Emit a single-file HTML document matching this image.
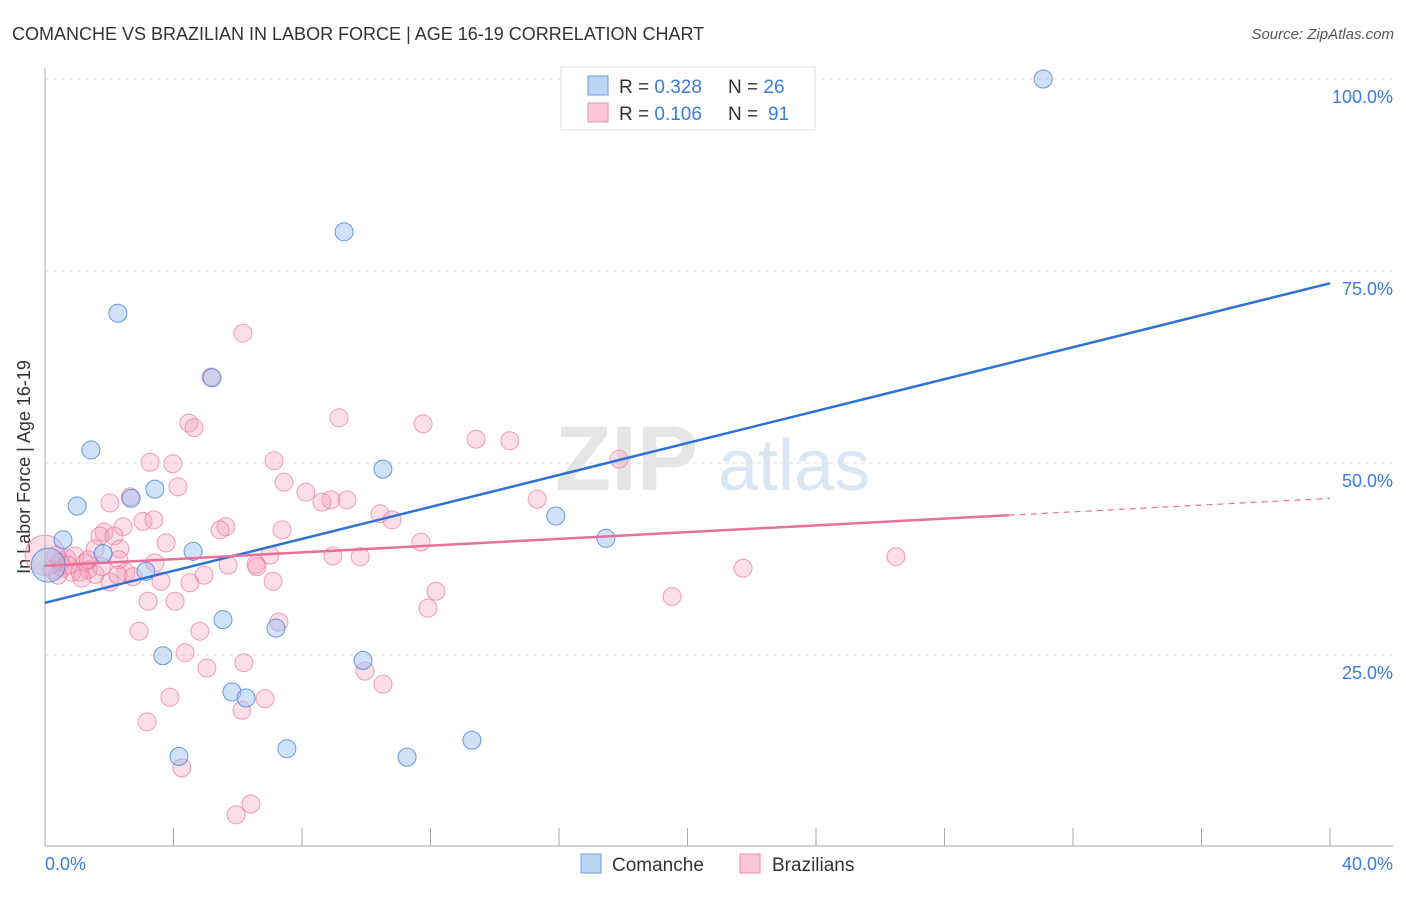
<!DOCTYPE html>
<html><head><meta charset="utf-8"><style>
body{margin:0;background:#fff;font-family:"Liberation Sans",sans-serif}
svg text{font-family:"Liberation Sans",sans-serif}
</style></head><body>
<svg width="1406" height="892" xmlns="http://www.w3.org/2000/svg">
<text x="12" y="40" font-size="18" fill="#333">COMANCHE VS BRAZILIAN IN LABOR FORCE | AGE 16-19 CORRELATION CHART</text>
<text x="1394" y="39" font-size="15" fill="#555" font-style="italic" text-anchor="end">Source: ZipAtlas.com</text>
<g><text x="555" y="490" font-size="92" fill="#e6e6e6" font-family="Liberation Serif" font-weight="bold">ZIP</text><text x="718" y="490" font-size="72" fill="#dbe6f4">atlas</text></g>
<g id="grid"></g>
<line x1="45" y1="68" x2="45" y2="846" stroke="#aaa"/>
<line x1="45" y1="846" x2="1393" y2="846" stroke="#aaa"/>
<g id="ticks"></g>
<text x="20" y="457" font-size="18" fill="#333" transform="rotate(-90 30 457)" text-anchor="middle">In Labor Force | Age 16-19</text>
<text x="45" y="870" font-size="18" fill="#3b7dd8">0.0%</text>
<text x="1393" y="870" font-size="18" fill="#3b7dd8" text-anchor="end">40.0%</text>
<g id="pts"></g>
<g id="lines"></g>
<g>
<rect x="561" y="67" width="254" height="63" fill="#fff" stroke="#ddd"/>
<rect x="588" y="76" width="20" height="19" fill="#bcd5f5" stroke="#6b9de0"/>
<rect x="588" y="103" width="20" height="19" fill="#f9c7d6" stroke="#ea8fae"/>
<text x="619" y="93" font-size="19" fill="#333">R = <tspan fill="#3b7dd8">0.328</tspan><tspan x="728">N = </tspan><tspan fill="#3b7dd8">26</tspan></text>
<text x="619" y="120" font-size="19" fill="#333">R = <tspan fill="#3b7dd8">0.106</tspan><tspan x="728">N = </tspan><tspan x="768" fill="#3b7dd8">91</tspan></text>
</g>
<g>
<rect x="581" y="854" width="20" height="19" fill="#bcd5f5" stroke="#6b9de0"/>
<text x="612" y="871" font-size="19" fill="#333">Comanche</text>
<rect x="740" y="854" width="20" height="19" fill="#f9c7d6" stroke="#ea8fae"/>
<text x="772" y="871" font-size="19" fill="#333">Brazilians</text>
</g>
</svg>
<script>
const yTicks=[25,50,75,100];
const yTickLabels=["25.0%","50.0%","75.0%","100.0%"];
const blueX=[31.07,9.31,2.27,5.2,1.43,10.52,1.0,3.42,2.68,15.9,0.56,17.46,4.61,1.81,3.14,5.54,7.19,3.67,9.9,5.82,6.26,4.17,7.53,11.27,13.29,0.1];
const blueY=[100,80.1,69.5,61.1,51.7,49.2,44.4,46.6,45.4,43.1,40.0,40.2,38.5,38.2,35.9,29.6,28.5,24.9,24.3,20.2,19.4,11.8,12.8,11.7,13.9,36.7];
const pinkX=[6.16,5.17,9.15,11.77,4.48,4.64,13.42,14.47,3.27,3.98,7.13,17.87,4.14,7.44,8.12,2.65,2.02,8.9,8.62,9.4,15.32,10.43,10.8,5.63,5.45,7.38,3.05,3.39,1.84,2.43,1.71,2.15,3.77,11.7,1.56,2.33,7.0,8.96,9.81,0.34,0.68,0.93,1.25,1.34,2.3,3.42,5.7,6.57,6.6,26.49,21.73,0.56,0.84,1.09,1.56,1.15,2.52,2.74,4.95,3.61,4.51,7.1,12.17,19.52,3.21,4.05,11.92,7.28,2.93,4.82,4.36,6.19,5.04,9.96,10.52,3.89,6.13,6.85,3.18,4.26,6.41,5.95,2.02,2.27,1.77,1.34,0.47,0.22,0.72,0.4,0.0];
const pinkY=[66.9,61.2,55.9,55.1,55.2,54.6,53.1,52.9,50.1,49.9,50.3,50.5,46.9,47.5,46.2,45.6,44.8,45.2,44.9,45.2,45.3,43.4,42.6,41.7,41.3,41.3,42.4,42.6,41.0,41.7,40.5,40.5,39.6,39.7,38.8,38.8,38.0,37.9,37.8,38.0,37.6,37.9,37.0,36.1,37.4,37.0,36.7,36.8,36.5,37.8,36.3,36.3,35.8,35.8,35.5,35.0,35.8,35.2,35.4,34.6,34.4,34.6,33.3,32.6,32.0,32.0,31.1,29.3,28.1,28.1,25.3,24.0,23.3,22.9,21.2,19.5,17.8,19.3,16.3,10.3,5.6,4.2,34.5,35.4,36.5,37.4,37.1,36.1,36.7,35.4,38.0];
const blueTrend=[31.8,1.04];
const pinkTrend=[36.6,0.22];
const xs=v=>45+v*32.125, ys=v=>847-v*7.68;
const NS="http://www.w3.org/2000/svg";
function mk(t,a,p){const e=document.createElementNS(NS,t);for(const k in a)e.setAttribute(k,a[k]);p.appendChild(e);return e;}
const grid=document.getElementById('grid');
yTicks.forEach((t,i)=>{
 const l=mk('line',{x1:45,x2:1393,y1:ys(t),y2:ys(t),stroke:'#ddd','stroke-dasharray':'4,4'},grid);
 
 
 const tx=mk('text',{x:1393,y:ys(t)+24,'font-size':18,fill:'#3b7dd8','text-anchor':'end'},grid);
 tx.textContent=yTickLabels[i];
 
 
});
const tk=document.getElementById('ticks');
for(let i=1;i<=10;i++){const l=mk('line',{x1:xs(i*4),x2:xs(i*4),y1:828,y2:846,stroke:'#aaa'},tk);
 
 }
const pts=document.getElementById('pts');
pinkX.forEach((x,i)=>{const big=i===pinkX.length-1;const c=mk('circle',{cx:xs(x),cy:ys(pinkY[i]),r:big?20:9,fill:'rgba(244,160,190,0.35)',stroke:'rgba(232,120,160,0.7)','stroke-width':1},pts);
 
 });
blueX.forEach((x,i)=>{const big=i===blueX.length-1;const c=mk('circle',{cx:xs(x),cy:ys(blueY[i]),r:big?17:9,fill:'rgba(150,190,240,0.45)',stroke:'rgba(70,130,210,0.8)','stroke-width':1},pts);
 
 });
const ln=document.getElementById('lines');
const bl=mk('line',{x1:xs(0),y1:ys(blueTrend[0]),x2:xs(40),y2:ys(blueTrend[0]+40*blueTrend[1]),stroke:'#2f72d6','stroke-width':2.5},ln);


const pl=mk('line',{x1:xs(0),y1:ys(pinkTrend[0]),x2:xs(30),y2:ys(pinkTrend[0]+30*pinkTrend[1]),stroke:'#e8709a','stroke-width':2.5},ln);


const pd=mk('line',{x1:xs(30),y1:ys(pinkTrend[0]+30*pinkTrend[1]),x2:xs(40),y2:ys(pinkTrend[0]+40*pinkTrend[1]),stroke:'#e8709a','stroke-width':1.2,'stroke-dasharray':'6,5'},ln);


</script>
</body></html>
